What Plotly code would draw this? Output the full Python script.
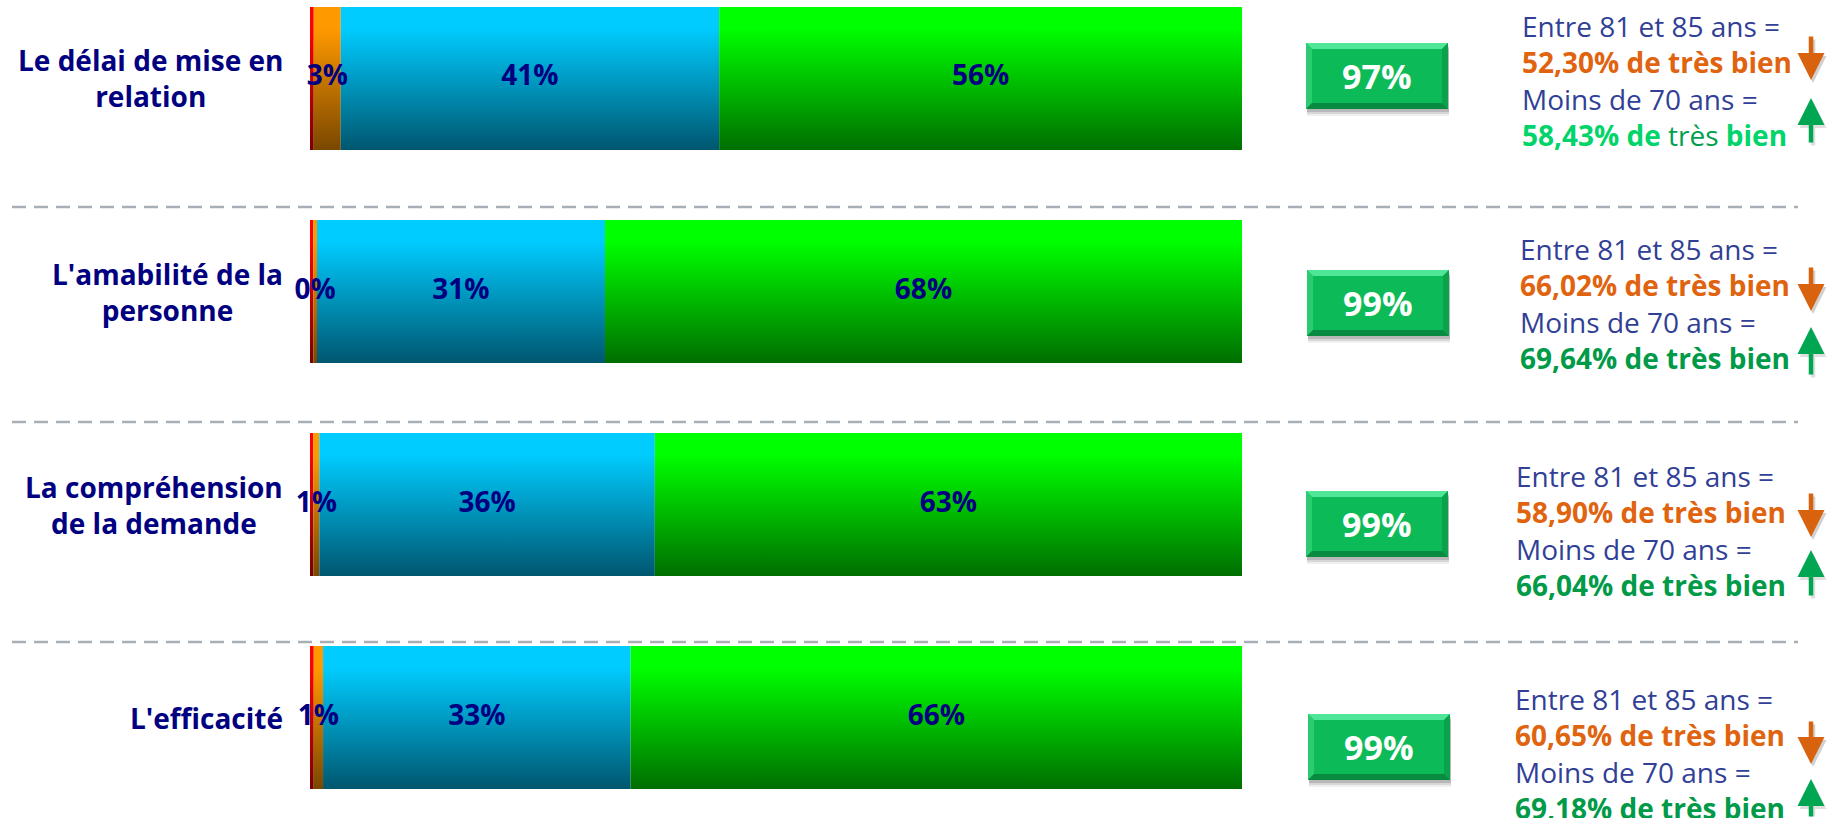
import plotly.graph_objects as go

W, H = 1834, 818

# ---- data -------------------------------------------------------------
categories = [
    "Le délai de mise en<br>relation",
    "L'amabilité de la<br>personne",
    "La compréhension<br>de la demande",
    "L'efficacité",
]
pas_bien = [0.4, 0.35, 0.35, 0.4]          # red
moyen = [2.9, 0.4, 0.65, 1.0]              # orange
bien = [40.6, 30.9, 36.0, 33.0]            # blue
tres_bien = [56.1, 68.35, 63.0, 65.6]      # green

groupe_81_85 = "Entre 81 et 85 ans ="
groupe_moins_70 = "Moins de 70 ans ="
pct_81_85 = [52.30, 66.02, 58.90, 60.65]
pct_moins_70 = [58.43, 69.64, 66.04, 69.18]

# ---- layout helpers ---------------------------------------------------
def fx(px):
    return px / W


def fy(py):
    return 1 - py / H


ROW_Y = [3, 2, 1, 0]
HALF = 0.3357
Y_RANGE = [-0.4718, 3.3685]
FONT = "Open Sans"
NAVY = "#000080"

series = [
    (pas_bien, "#780000", "#FF0000", False),
    (moyen, "#7A4700", "#FF9900", True),
    (bien, "#00566F", "#00CCFF", True),
    (tres_bien, "#006E00", "#00FF00", True),
]

fig = go.Figure()

# stacked segments with a vertical gradient
for r in range(len(categories)):
    left = 0.0
    y0, y1 = ROW_Y[r] - HALF, ROW_Y[r] + HALF
    for vals, dark, bright, _ in series:
        right = left + vals[r]
        fig.add_trace(go.Scatter(
            x=[left, right, right, left, left],
            y=[y0, y0, y1, y1, y0],
            mode="lines", fill="toself", line=dict(width=0),
            fillgradient=dict(type="vertical", start=y0, stop=y1,
                              colorscale=[[0, dark], [0.85, bright], [1, bright]]),
            hoverinfo="skip", showlegend=False,
        ))
        left = right

# segment value labels
for k, (vals, _, _, labeled) in enumerate(series):
    if not labeled:
        continue
    xs, txt = [], []
    for r in range(len(categories)):
        start = sum(series[j][0][r] for j in range(k))
        xs.append(start + vals[r] / 2)
        txt.append(f"<b>{round(vals[r])}%</b>")
    fig.add_trace(go.Scatter(
        x=xs, y=ROW_Y, mode="text", text=txt, textposition="middle center",
        textfont=dict(family=FONT, size=28, color=NAVY), cliponaxis=False,
        hoverinfo="skip", showlegend=False,
    ))

shapes = []
annotations = []

# dashed separators
for py in [207, 422, 642]:
    shapes.append(dict(type="line", xref="paper", yref="paper",
                       x0=fx(12), x1=fx(1798), y0=fy(py), y1=fy(py),
                       line=dict(color="#A7AEB6", width=2.5, dash="14px,8px")))

# category labels
for r, cat in enumerate(categories):
    annotations.append(dict(
        x=fx(285), xref="paper", y=ROW_Y[r], yref="y",
        xanchor="right", yanchor="middle", align="center",
        text=f"<b>{cat}</b>", showarrow=False,
        font=dict(family=FONT, size=28, color=NAVY),
    ))

# satisfaction boxes
box_cx = [1377, 1378, 1377, 1379]
box_cy = [76, 303, 524, 747]
BW, BH, BV = 142, 66, 6
for r in range(len(categories)):
    x0, x1 = box_cx[r] - BW / 2, box_cx[r] + BW / 2
    y0, y1 = box_cy[r] - BH / 2, box_cy[r] + BH / 2
    # soft drop shadow
    for off, a in [(7, 0.06), (5, 0.10), (3, 0.14)]:
        shapes.append(dict(type="rect", xref="paper", yref="paper",
                           x0=fx(x0 + 1), x1=fx(x1 + 1), y0=fy(y0 + off), y1=fy(y1 + off),
                           fillcolor=f"rgba(0,0,0,{a})", line=dict(width=0)))
    shapes.append(dict(type="rect", xref="paper", yref="paper",
                       x0=fx(x0), x1=fx(x1), y0=fy(y0), y1=fy(y1),
                       fillcolor="#0CBB57", line=dict(width=0)))

    def poly(pts, color):
        path = "M " + " L ".join(f"{fx(a)},{fy(b)}" for a, b in pts) + " Z"
        shapes.append(dict(type="path", xref="paper", yref="paper", path=path,
                           fillcolor=color, line=dict(width=0)))

    poly([(x0, y0), (x1, y0), (x1 - BV, y0 + BV), (x0 + BV, y0 + BV)], "#4FE797")
    poly([(x0, y0), (x0 + BV, y0 + BV), (x0 + BV, y1 - BV), (x0, y1)], "#2CCB72")
    poly([(x1, y0), (x1, y1), (x1 - BV, y1 - BV), (x1 - BV, y0 + BV)], "#0AA34C")
    poly([(x0, y1), (x0 + BV, y1 - BV), (x1 - BV, y1 - BV), (x1, y1)], "#088A40")

    total = round(bien[r] + tres_bien[r])
    annotations.append(dict(
        x=fx(box_cx[r]), y=fy(box_cy[r]), xref="paper", yref="paper",
        xanchor="center", yanchor="middle", showarrow=False,
        text=f"<b>{total}%</b>",
        font=dict(family=FONT, size=34, color="white"),
    ))

# age-group comparison text
BLUE_TXT = "#313F96"
ORANGE_TXT = "#E0640F"
GREEN_TXT = "#009A48"
text_x = [1520, 1518, 1514, 1513]
text_cy = [80, 303, 530, 753]


def fr(v):
    return f"{v:.2f}".replace(".", ",")


for r in range(len(categories)):
    if r == 0:
        green_line = (f"<span style='color:#00D46A'><b>{fr(pct_moins_70[r])}% de </b></span>"
                      f"<span style='color:#00A04E'>très </span>"
                      f"<span style='color:#00D46A'><b>bien</b></span>")
    else:
        green_line = f"<span style='color:{GREEN_TXT}'><b>{fr(pct_moins_70[r])}% de très bien</b></span>"
    txt = (f"{groupe_81_85}<br>"
           f"<span style='color:{ORANGE_TXT}'><b>{fr(pct_81_85[r])}% de très bien</b></span><br>"
           f"{groupe_moins_70}<br>"
           f"{green_line}")
    annotations.append(dict(
        x=fx(text_x[r]), y=fy(text_cy[r]), xref="paper", yref="paper",
        xanchor="left", yanchor="middle", align="left", showarrow=False,
        text=txt, font=dict(family=FONT, size=28, color=BLUE_TXT),
    ))

# trend arrows (tail, tip) in pixels
ARROW_X = 1811
down_arrows = [(35, 80), (266, 311), (492, 537), (720, 764)]
up_arrows = [(144, 98), (376, 327), (597, 550), (826, 779)]


def arrow(tail, tip, color, shadow=False):
    dx = 2 if shadow else 0
    dy = 3 if shadow else 0
    annotations.append(dict(
        x=fx(ARROW_X + dx), y=fy(tip + dy), xref="paper", yref="paper",
        ax=0, ay=tail - tip, axref="pixel", ayref="pixel",
        text="", showarrow=True, arrowhead=2, arrowsize=1.2, arrowwidth=4.5,
        arrowcolor=color, standoff=0, startstandoff=0,
        font=dict(size=1),
    ))


for (t, p) in down_arrows:
    arrow(t, p, "rgba(0,0,0,0.18)", shadow=True)
    arrow(t, p, "#D9620E")
for (t, p) in up_arrows:
    arrow(t, p, "rgba(0,0,0,0.12)", shadow=True)
    arrow(t, p, "#00A651")

fig.update_layout(
    width=W, height=H,
    margin=dict(l=0, r=0, t=0, b=0),
    paper_bgcolor="white", plot_bgcolor="white",
    showlegend=False,
    xaxis=dict(domain=[fx(310), fx(1242)], range=[0, 100], visible=False, fixedrange=True),
    yaxis=dict(domain=[0, 1], range=Y_RANGE, visible=False, fixedrange=True),
    shapes=shapes, annotations=annotations,
    font=dict(family=FONT),
)

fig.write_html("out.html")
